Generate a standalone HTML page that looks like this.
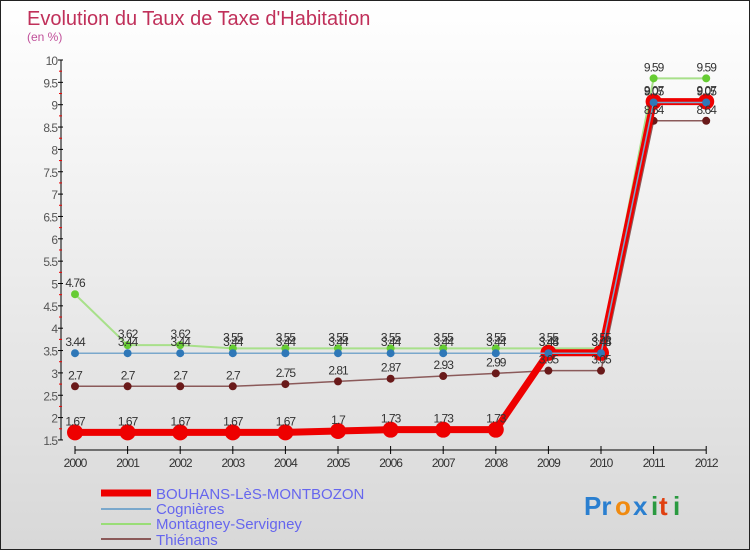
<!DOCTYPE html>
<html><head><meta charset="utf-8"><style>
html,body{margin:0;padding:0}
body{width:750px;height:550px;overflow:hidden}
#c{width:748px;height:548px;border:1px solid #222;background:linear-gradient(#fff,#d8d8d8);position:relative;font-family:"Liberation Sans",sans-serif}
</style></head><body>
<div id="c">
<svg id="s" width="748" height="548" xmlns="http://www.w3.org/2000/svg">
<text x="26" y="24" font-size="20" fill="#c0305a">Evolution du Taux de Taxe d'Habitation</text>
<text x="26" y="40" font-size="12" fill="#c0509a">(en %)</text>
<g id="axes"></g><g id="series"></g><g id="labels"></g>
<g>
<line x1="100" y1="492" x2="150" y2="492" stroke="#e00" stroke-width="7"/>
<text x="155" y="498" font-size="15" fill="#6666ee">BOUHANS-LèS-MONTBOZON</text>
<line x1="100" y1="508" x2="150" y2="508" stroke="#7aa8cc" stroke-width="2"/>
<text x="155" y="513" font-size="15" fill="#6666ee">Cognières</text>
<line x1="100" y1="523" x2="150" y2="523" stroke="#99dd77" stroke-width="2"/>
<text x="155" y="528" font-size="15" fill="#6666ee">Montagney-Servigney</text>
<line x1="100" y1="538" x2="150" y2="538" stroke="#8b5a5a" stroke-width="2"/>
<text x="155" y="544" font-size="15" fill="#6666ee">Thiénans</text>
</g>
<g font-size="26" font-weight="bold">
<text x="583" y="514" fill="#2a7fd0">Pr</text><text x="614" y="514" fill="#f08a10">o</text><text x="632" y="514" fill="#2a7fd0">x</text><text x="650" y="514" fill="#2a9a40">i</text><text x="658" y="514" fill="#e04010">t</text><text x="672" y="514" fill="#2a9a40">i</text>
</g>
</svg></div>
<script>
const years=[2000,2001,2002,2003,2004,2005,2006,2007,2008,2009,2010,2011,2012];
const bouhans=[1.67,1.67,1.67,1.67,1.67,1.7,1.73,1.73,1.73,3.45,3.45,9.07,9.07];
const cognieres=[3.44,3.44,3.44,3.44,3.44,3.44,3.44,3.44,3.44,3.44,3.44,9.05,9.05];
const montagney=[4.76,3.62,3.62,3.55,3.55,3.55,3.55,3.55,3.55,3.55,3.55,9.59,9.59];
const thienans=[2.7,2.7,2.7,2.7,2.75,2.81,2.87,2.93,2.99,3.05,3.05,8.64,8.64];
const yTicks=[1.5,2,2.5,3,3.5,4,4.5,5,5.5,6,6.5,7,7.5,8,8.5,9,9.5,10];
const NS="http://www.w3.org/2000/svg";
const X=i=>74+i*52.6, Y=v=>59+(10-v)*44.7;
function mk(t,a,p){const e=document.createElementNS(NS,t);for(const k in a)e.setAttribute(k,a[k]);p.appendChild(e);return e;}
const ax=document.getElementById('axes');
const yl=mk('line',{x1:60,y1:Y(10),x2:60,y2:Y(1.5),stroke:'#000'},ax);


yTicks.forEach(v=>{mk('line',{x1:57,x2:62,y1:Y(v),y2:Y(v),stroke:'#000'},ax);
 if(v<10)mk('line',{x1:58,x2:61,y1:Y(v+0.25),y2:Y(v+0.25),stroke:'#e00'},ax);
 const t=mk('text',{x:56,y:Y(v)+5,'text-anchor':'end','font-size':12,fill:'#555','letter-spacing':'-1'},ax);t.textContent=v;
 
 });
const xl=mk('line',{x1:X(0),y1:449,x2:X(12),y2:449,stroke:'#000'},ax);


years.forEach((y,i)=>{mk('line',{x1:X(i),x2:X(i),y1:445,y2:453,stroke:'#000'},ax);
 const t=mk('text',{x:X(i),y:466,'text-anchor':'middle','font-size':12,fill:'#333','letter-spacing':'-1'},ax);t.textContent=y;
 
 });
const sg=document.getElementById('series'),lg=document.getElementById('labels');
function draw(d,name,col,w,r,dot){
 const p=mk('polyline',{points:d.map((v,i)=>X(i)+','+Y(v)).join(' '),fill:'none',stroke:col,'stroke-width':w},sg);
 
 
 d.forEach((v,i)=>{const c=mk('circle',{cx:X(i),cy:Y(v),r:r,fill:dot},sg);
  
  
  const t=mk('text',{x:X(i),y:Y(v)-7,'text-anchor':'middle','font-size':12,fill:'#333','letter-spacing':'-1'},lg);t.textContent=v;
  
  });
}
draw(thienans,'thienans','#8b5a5a',1.5,4,'#6a1a1a');
draw(montagney,'montagney','#a8e08a',2,4,'#66cc33');
draw(bouhans,'bouhans','#ee0000',7,8,'#ee0000');
draw(cognieres,'cognieres','#7aa8cc',1.5,4,'#2f78b8');
</script>
</body></html>
